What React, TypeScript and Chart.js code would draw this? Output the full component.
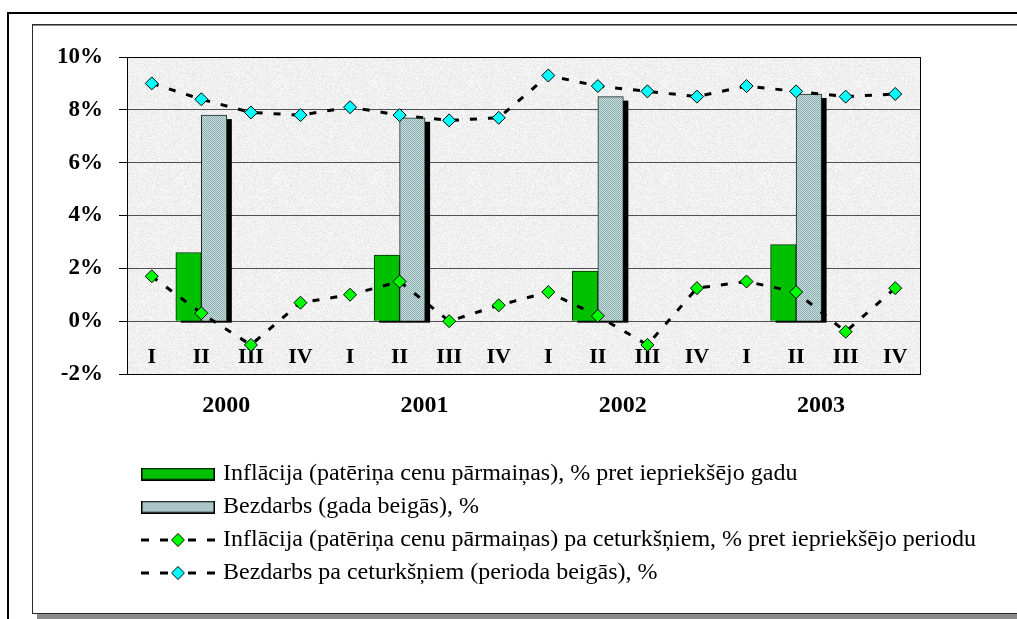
import React, { useEffect, useRef } from 'react';
import { Chart, registerables } from 'chart.js';

Chart.register(...registerables);

// ---------- data ----------
const quarterLabels = ['I', 'II', 'III', 'IV', 'I', 'II', 'III', 'IV', 'I', 'II', 'III', 'IV', 'I', 'II', 'III', 'IV'];
const yearLabels = ['2000', '2001', '2002', '2003'];
const annualInflation = [2.6, 2.5, 1.9, 2.9];
const annualUnemployment = [7.8, 7.7, 8.5, 8.6];
const quarterlyInflation = [1.7, 0.3, -0.9, 0.7, 1.0, 1.5, 0.0, 0.6, 1.1, 0.2, -0.9, 1.25, 1.5, 1.1, -0.4, 1.25];
const quarterlyUnemployment = [9.0, 8.4, 7.9, 7.8, 8.1, 7.8, 7.6, 7.7, 9.3, 8.9, 8.7, 8.5, 8.9, 8.7, 8.5, 8.6];
const yTickValues = [-2, 0, 2, 4, 6, 8, 10];
const seriesLabels = [
  'Inflācija (patēriņa cenu pārmaiņas), % pret iepriekšējo gadu',
  'Bezdarbs (gada beigās), %',
  'Inflācija (patēriņa cenu pārmaiņas) pa ceturkšņiem, % pret iepriekšējo periodu',
  'Bezdarbs pa ceturkšņiem (perioda beigās), %',
];
const annualQuarterSlot = 1; // annual bars sit at quarter II

const FONT = "'Liberation Serif', 'Times New Roman', Times, serif";

function annualToQuarters(vals: number[]) {
  return quarterLabels.map((_, i) => (i % 4 === annualQuarterSlot ? vals[Math.floor(i / 4)] : null));
}

function makeCanvas(w: number, h: number) {
  const c = document.createElement('canvas');
  c.width = w;
  c.height = h;
  return c;
}

function makeGreyPattern(ctx: CanvasRenderingContext2D) {
  const c = makeCanvas(2, 2);
  const g = c.getContext('2d')!;
  g.fillStyle = '#c4dcdc';
  g.fillRect(0, 0, 2, 2);
  g.fillStyle = '#90b0b0';
  g.fillRect(0, 0, 1, 1);
  g.fillRect(1, 1, 1, 1);
  return ctx.createPattern(c, 'repeat')!;
}

function makeGranite(ctx: CanvasRenderingContext2D) {
  const n = 97;
  const c = makeCanvas(n, n);
  const g = c.getContext('2d')!;
  const img = g.createImageData(n, n);
  for (let y = 0; y < n; y++) {
    for (let x = 0; x < n; x++) {
      const h = Math.sin(x * 12.9898 + y * 78.233) * 43758.5453;
      const f = h - Math.floor(h);
      const v = 230 + Math.round(f * 20);
      const k = (y * n + x) * 4;
      img.data[k] = v;
      img.data[k + 1] = v;
      img.data[k + 2] = v;
      img.data[k + 3] = 255;
    }
  }
  g.putImageData(img, 0, 0);
  return ctx.createPattern(c, 'repeat')!;
}

function barSymbol(fill: string | CanvasPattern) {
  const c = makeCanvas(74, 13);
  const g = c.getContext('2d')!;
  g.fillStyle = fill as any;
  g.fillRect(0, 0, 74, 13);
  g.strokeStyle = '#000';
  g.lineWidth = 1.5;
  g.strokeRect(0.75, 0.75, 72.5, 11.5);
  return c;
}

function lineSymbol(color: string) {
  const c = makeCanvas(74, 15);
  const g = c.getContext('2d')!;
  g.fillStyle = '#000';
  const segs = [[0, 8], [19, 27], [47, 55], [66, 74]];
  segs.forEach(([a, b]) => g.fillRect(a, 6, b - a, 3));
  g.beginPath();
  g.moveTo(37 - 6.5, 7.5);
  g.lineTo(37, 1);
  g.lineTo(37 + 6.5, 7.5);
  g.lineTo(37, 14);
  g.closePath();
  g.fillStyle = color;
  g.fill();
  g.strokeStyle = '#000';
  g.lineWidth = 1;
  g.stroke();
  return c;
}

export default function App() {
  const ref = useRef<HTMLCanvasElement>(null);

  useEffect(() => {
    const canvas = ref.current!;
    const ctx = canvas.getContext('2d')!;
    const greyPattern = makeGreyPattern(ctx);
    const granite = makeGranite(ctx);
    const GREEN_BAR = '#00c000';
    const symbols = [
      barSymbol(GREEN_BAR),
      barSymbol(greyPattern),
      lineSymbol('#00ff00'),
      lineSymbol('#00ffff'),
    ];

    const framePlugin = {
      id: 'framePlugin',
      beforeDraw(chart: any) {
        const c = chart.ctx as CanvasRenderingContext2D;
        const { left, top, right, bottom } = chart.chartArea;
        c.save();
        // outer border
        c.fillStyle = '#000';
        c.fillRect(7, 12, 1010, 2);
        c.fillRect(7, 12, 2, 607);
        // inner frame
        c.fillStyle = '#2a2a2a';
        c.fillRect(32, 24, 985, 1);
        c.fillRect(32, 24, 1, 590);
        c.fillRect(32, 613, 985, 1);
        c.fillStyle = '#8a8a8a';
        c.fillRect(33, 25, 984, 1);
        c.fillRect(37, 614, 980, 5);
        // plot background
        c.fillStyle = granite as any;
        c.fillRect(left, top, right - left, bottom - top);
        c.restore();
      },
      beforeDatasetsDraw(chart: any) {
        const c = chart.ctx as CanvasRenderingContext2D;
        c.save();
        c.fillStyle = '#000';
        chart.data.datasets.forEach((ds: any, i: number) => {
          if (ds.type !== 'bar') return;
          const meta = chart.getDatasetMeta(i);
          meta.data.forEach((el: any, j: number) => {
            if (ds.data[j] == null) return;
            const { x, y, base, width } = el.getProps(['x', 'y', 'base', 'width'], true);
            c.fillRect(x - width / 2 + 5, y + 4, width, base - y - 2);
          });
        });
        c.restore();
      },
      afterLayout(chart: any) {
        const lg = chart.legend;
        if (!lg) return;
        const h = lg.height;
        lg.left = 136;
        lg.top = 453;
        lg.width = chart.width - 137;
        lg.right = chart.width - 1;
        lg.bottom = 453 + h;
      },
      afterDraw(chart: any) {
        const c = chart.ctx as CanvasRenderingContext2D;
        const { left, top, right, bottom } = chart.chartArea;
        c.save();
        c.strokeStyle = '#000';
        c.lineWidth = 1;
        c.strokeRect(left + 0.5, top + 0.5, right - left, bottom - top);
        c.restore();
      },
    };

    const chart = new Chart(canvas, {
      type: 'bar',
      data: {
        labels: quarterLabels,
        datasets: [
          {
            type: 'bar',
            label: seriesLabels[0],
            data: annualToQuarters(annualInflation),
            backgroundColor: GREEN_BAR,
            borderColor: '#003000',
            borderWidth: 1,
            barThickness: 25.5,
            order: 2,
          },
          {
            type: 'bar',
            label: seriesLabels[1],
            data: annualToQuarters(annualUnemployment),
            backgroundColor: greyPattern as any,
            borderColor: '#1a2a2a',
            borderWidth: 1,
            barThickness: 25.5,
            order: 2,
          },
          {
            type: 'line',
            label: seriesLabels[2],
            data: quarterlyInflation,
            borderColor: '#000',
            borderWidth: 3,
            borderDash: [7, 11],
            tension: 0,
            fill: false,
            pointStyle: 'rectRot',
            pointRadius: 6.5,
            pointBackgroundColor: '#00ff00',
            pointBorderColor: '#000',
            pointBorderWidth: 1,
            order: 1,
          },
          {
            type: 'line',
            label: seriesLabels[3],
            data: quarterlyUnemployment,
            borderColor: '#000',
            borderWidth: 3,
            borderDash: [7, 11],
            tension: 0,
            fill: false,
            pointStyle: 'rectRot',
            pointRadius: 6.5,
            pointBackgroundColor: '#00ffff',
            pointBorderColor: '#000',
            pointBorderWidth: 1,
            order: 1,
          },
        ] as any,
      },
      options: {
        animation: false,
        responsive: false,
        events: [],
        layout: { padding: { left: 20, top: 57, right: 97, bottom: 195 } },
        scales: {
          x: {
            type: 'category',
            position: 'bottom',
            weight: 0,
            offset: true,
            grid: { display: false, drawTicks: false },
            border: { display: false },
            ticks: {
              mirror: true,
              padding: 3,
              autoSkip: false,
              maxRotation: 0,
              minRotation: 0,
              color: '#000',
              font: { family: FONT, size: 22, weight: 'bold' },
            },
            afterFit: (s: any) => {
              s.height = 0;
            },
          },
          x2: {
            type: 'category',
            labels: yearLabels,
            position: 'bottom',
            weight: 1,
            offset: true,
            grid: { display: false, drawTicks: false },
            border: { display: false },
            ticks: {
              padding: 17,
              autoSkip: false,
              maxRotation: 0,
              minRotation: 0,
              color: '#000',
              font: { family: FONT, size: 24, weight: 'bold' },
            },
            afterFit: (s: any) => {
              s.height = 50;
            },
          },
          y: {
            min: yTickValues[0],
            max: yTickValues[yTickValues.length - 1],
            ticks: {
              stepSize: yTickValues[1] - yTickValues[0],
              padding: 16,
              color: '#000',
              font: { family: FONT, size: 23, weight: 'bold' },
              callback: (v: any) => `${v}%`,
            },
            grid: { color: '#505050', tickColor: '#000', tickLength: 8, lineWidth: 1 },
            border: { display: false },
            afterFit: (s: any) => {
              s.width = 107;
            },
          },
        },
        plugins: {
          tooltip: { enabled: false },
          legend: {
            position: 'chartArea',
            align: 'start',
            labels: {
              usePointStyle: true,
              pointStyleWidth: 66,
              padding: 9,
              color: '#000',
              font: { family: FONT, size: 24 },
              generateLabels: () =>
                seriesLabels.map((t, i) => ({
                  text: t,
                  pointStyle: symbols[i] as any,
                  datasetIndex: i,
                  hidden: false,
                  lineWidth: 0,
                  fillStyle: 'rgba(0,0,0,0)',
                  strokeStyle: 'rgba(0,0,0,0)',
                })),
            },
          },
        },
      } as any,
      plugins: [framePlugin as any],
    });

    return () => chart.destroy();
  }, []);

  return (
    <div style={{ position: 'absolute', left: 0, top: 0, width: 1017, height: 619, background: '#fff' }}>
      <canvas ref={ref} width={1017} height={619} style={{ display: 'block' }} />
    </div>
  );
}
